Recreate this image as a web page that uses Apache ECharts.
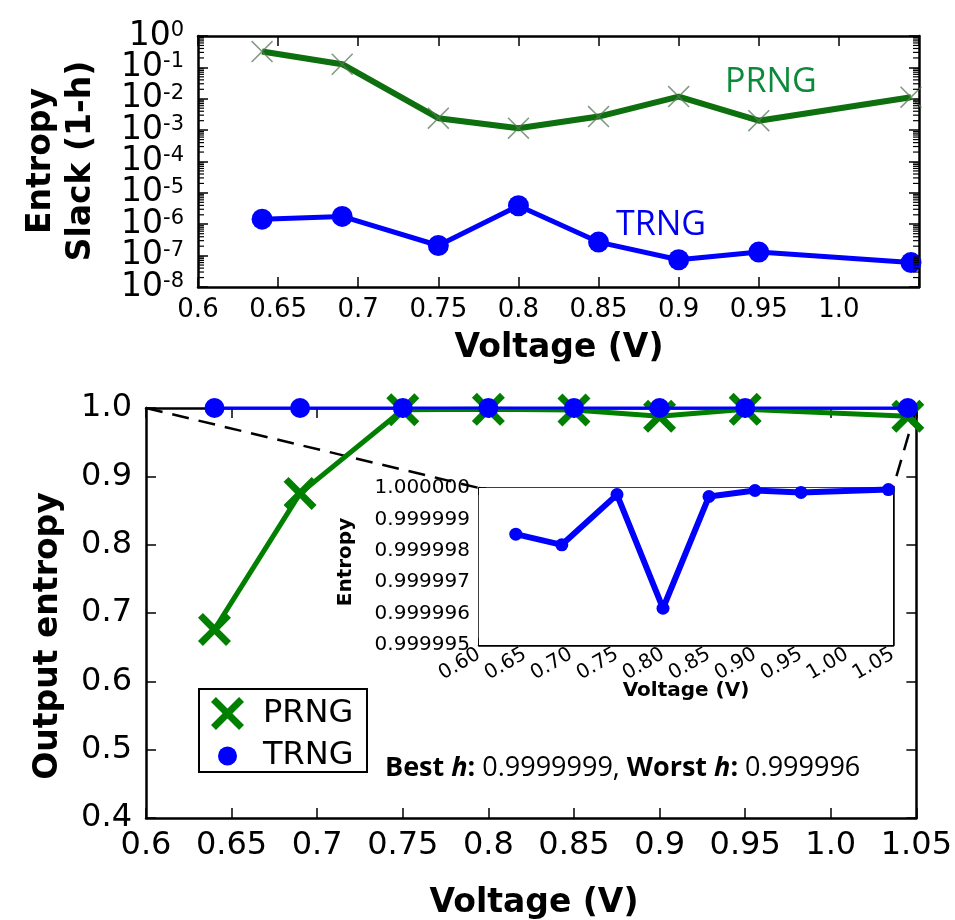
<!DOCTYPE html>
<html>
<head>
<meta charset="utf-8">
<script src="https://cdn.jsdelivr.net/npm/echarts@6/dist/echarts.min.js"></script>
<style>
  html, body { margin: 0; padding: 0; background: #fff; }
  #main { width: 955px; height: 920px; }
</style>
</head>
<body>
<div id="main"></div>
<script>
// data
var voltage = [0.64, 0.69, 0.75, 0.80, 0.85, 0.90, 0.95, 1.045];
var prngSlack = [0.32, 0.126, 0.0024, 0.00115, 0.0027, 0.0117, 0.002, 0.0112];
var trngSlack = [1.45e-6, 1.78e-6, 2.1e-7, 3.9e-6, 2.7e-7, 7.4e-8, 1.3e-7, 6e-8];
var prngEntropy = [0.676, 0.875, 0.9975, 0.998, 0.997, 0.988, 0.998, 0.988];
var trngEntropy = [0.99999853, 0.99999819, 0.99999979, 0.99999617, 0.99999973, 0.99999992, 0.99999986, 0.99999995];

var FONT = 'DejaVu Sans';
var GREEN = '#007f00';
var BLUE = '#0000ff';

var xThin = 'path://M0,1 L1,0 L10,9 L19,0 L20,1 L11,10 L20,19 L19,20 L10,11 L1,20 L0,19 L9,10 Z';
var xThick = 'path://M0,3 L3,0 L10,7 L17,0 L20,3 L13,10 L20,17 L17,20 L10,13 L3,20 L0,17 L7,10 Z';

function pairs(xs, ys) {
    return xs.map(function (x, i) { return [x, ys[i]]; });
}

function fmtVolt(v) {
    if (Math.abs(v - 1) < 1e-9) return '1.0';
    return String(Math.round(v * 100) / 100);
}

/**
 * one axis with matplotlib-like inside ticks
 */
function axis(type, grid, pos, min, max, extra) {
    var a = {
        type: type,
        gridIndex: grid,
        position: pos,
        min: min,
        max: max,
        axisLine: { show: true, onZero: false, lineStyle: { color: '#000', width: 2.5 } },
        axisTick: { show: true, inside: true, length: 10, lineStyle: { color: '#000', width: 1.5 } },
        axisLabel: { show: false },
        splitLine: { show: false }
    };
    for (var k in extra) a[k] = extra[k];
    return a;
}

// log labels 10^n, split over two axes (even / odd powers) so none get dropped
function powLabel(parity) {
    return {
        show: true, margin: 14, interval: 0, showMinLabel: true, showMaxLabel: true,
        formatter: function (v) {
            var e = Math.round(Math.log(v) / Math.LN10);
            if (Math.abs(e % 2) !== parity) return '';
            return '{b|10}{s|' + (e === 0 ? '0' : '-' + (-e)) + '}';
        },
        rich: {
            b: { fontSize: 33, fontFamily: FONT, color: '#000', lineHeight: 32 },
            s: { fontSize: 21, fontFamily: FONT, color: '#000', lineHeight: 21, verticalAlign: 'top' }
        }
    };
}

var chart = echarts.init(document.getElementById('main'));

var xAxes = [
    axis('value', 0, 'bottom', 0.6, 1.05, {
        interval: 0.05,
        axisLabel: {
            show: true, margin: 10, fontSize: 26, fontFamily: FONT, color: '#000',
            formatter: function (v) { return v > 1.04 ? '' : fmtVolt(v); }
        }
    }),
    axis('value', 0, 'top', 0.6, 1.05, { interval: 0.05 }),
    axis('value', 1, 'bottom', 0.6, 1.05, {
        interval: 0.05,
        axisLabel: {
            show: true, margin: 12, fontSize: 32, fontFamily: FONT, color: '#000',
            formatter: fmtVolt, hideOverlap: false
        }
    }),
    axis('value', 1, 'top', 0.6, 1.05, { interval: 0.05 }),
    axis('value', 2, 'bottom', 0.6, 1.05, {
        interval: 0.05,
        axisTick: { show: true, inside: true, length: 7, lineStyle: { color: '#000', width: 1.5 } },
        axisLabel: {
            show: true, margin: 8, rotate: 30, fontSize: 20, fontFamily: FONT, color: '#000',
            formatter: function (v) { return v.toFixed(2); }
        }
    }),
    axis('value', 2, 'top', 0.6, 1.05, {
        interval: 0.05,
        axisTick: { show: true, inside: true, length: 7, lineStyle: { color: '#000', width: 1.5 } }
    })
];

var yAxes = [
    axis('log', 0, 'left', 1e-8, 1, { logBase: 10, splitNumber: 8, axisLabel: powLabel(0) }),
    axis('log', 0, 'right', 1e-8, 1, { logBase: 10, splitNumber: 8 }),
    axis('value', 1, 'left', 0.4, 1.0, {
        interval: 0.1,
        axisLabel: {
            show: true, margin: 14, fontSize: 32, fontFamily: FONT, color: '#000',
            formatter: function (v) { return v.toFixed(1); }
        }
    }),
    axis('value', 1, 'right', 0.4, 1.0, { interval: 0.1 }),
    axis('value', 2, 'left', 0.999995, 1.0, {
        interval: 0.000001,
        axisTick: { show: true, inside: true, length: 7, lineStyle: { color: '#000', width: 1.5 } },
        axisLabel: {
            show: true, margin: 9, fontSize: 20, fontFamily: FONT, color: '#000',
            formatter: function (v) { return v.toFixed(6); }
        }
    }),
    axis('value', 2, 'right', 0.999995, 1.0, {
        interval: 0.000001,
        axisTick: { show: true, inside: true, length: 7, lineStyle: { color: '#000', width: 1.5 } }
    }),
    axis('log', 0, 'left', 1e-8, 1, {
        logBase: 10, splitNumber: 8, offset: 0,
        axisLine: { show: false, onZero: false },
        axisTick: { show: false },
        axisLabel: powLabel(1)
    })
];

var option = {
    animation: false,
    backgroundColor: '#fff',
    grid: [
        { left: 198, top: 36, width: 721, height: 251 },
        { left: 146, top: 408, width: 777, height: 410 },
        { left: 479, top: 488, width: 414, height: 157, show: true, backgroundColor: '#fff', borderWidth: 0, z: 3 }
    ],
    xAxis: xAxes,
    yAxis: yAxes,
    legend: [
        {
            data: [{ name: 'PRNG', icon: xThick }],
            left: 211, top: 697, orient: 'vertical', padding: 0,
            itemWidth: 33, itemHeight: 33, selectedMode: false,
            textStyle: { fontSize: 32, fontFamily: FONT, color: '#000', padding: [0, 0, 0, 14] }
        },
        {
            data: [{ name: 'TRNG', icon: 'circle' }],
            left: 218, top: 740, orient: 'vertical', padding: 0,
            itemWidth: 19, itemHeight: 19, selectedMode: false,
            textStyle: { fontSize: 32, fontFamily: FONT, color: '#000', padding: [0, 0, 0, 21] }
        }
    ],
    series: [
        {
            name: 'PRNG slack', type: 'line', xAxisIndex: 0, yAxisIndex: 0,
            data: pairs(voltage, prngSlack),
            symbol: xThin, symbolSize: 22,
            lineStyle: { color: '#0d6f0d', width: 6 },
            itemStyle: { color: 'rgba(90,120,90,0.75)' },
            z: 3
        },
        {
            name: 'TRNG slack', type: 'line', xAxisIndex: 0, yAxisIndex: 0,
            data: pairs(voltage, trngSlack),
            symbol: 'circle', symbolSize: 21,
            lineStyle: { color: BLUE, width: 5 },
            itemStyle: { color: BLUE },
            z: 3
        },
        {
            name: 'PRNG', type: 'line', xAxisIndex: 2, yAxisIndex: 2,
            data: pairs(voltage, prngEntropy),
            symbol: xThick, symbolSize: 33,
            lineStyle: { color: GREEN, width: 5 },
            itemStyle: { color: GREEN },
            clip: false,
            z: 3
        },
        {
            name: 'TRNG', type: 'line', xAxisIndex: 2, yAxisIndex: 2,
            data: pairs(voltage, trngEntropy),
            symbol: 'circle', symbolSize: 20,
            lineStyle: { color: BLUE, width: 3 },
            itemStyle: { color: BLUE },
            clip: false,
            z: 4
        },
        {
            name: 'TRNG inset', type: 'line', xAxisIndex: 4, yAxisIndex: 4,
            data: pairs(voltage, trngEntropy),
            symbol: 'circle', symbolSize: 13,
            lineStyle: { color: BLUE, width: 6 },
            itemStyle: { color: BLUE },
            clip: false,
            z: 5
        }
    ]
};

chart.setOption(option);

// annotations: zoom lines, log minor ticks, labels
function px(axisIdx, x, y) {
    return chart.convertToPixel({ xAxisIndex: axisIdx, yAxisIndex: axisIdx }, [x, y]);
}

var graphics = [];

var bl = px(2, 0.6, 1.0), br = px(2, 1.05, 1.0);
var il = px(4, 0.6, 1.0), ir = px(4, 1.05, 1.0);
[[bl, il], [br, ir]].forEach(function (p) {
    graphics.push({
        type: 'line', z: 1,
        shape: { x1: p[0][0], y1: p[0][1], x2: p[1][0], y2: p[1][1] },
        style: { stroke: '#000', lineWidth: 2.5, lineDash: [17, 10] }
    });
});

var tl = px(0, 0.6, 1), tr = px(0, 1.05, 1);
for (var n = -8; n < 0; n++) {
    for (var k = 2; k <= 9; k++) {
        var yy = px(0, 0.6, k * Math.pow(10, n))[1];
        graphics.push({ type: 'line', z: 5, shape: { x1: tl[0], y1: yy, x2: tl[0] + 6, y2: yy }, style: { stroke: '#000', lineWidth: 1.2 } });
        graphics.push({ type: 'line', z: 5, shape: { x1: tr[0] - 6, y1: yy, x2: tr[0], y2: yy }, style: { stroke: '#000', lineWidth: 1.2 } });
    }
}

function title(text, x, y, size, rot, extra) {
    var st = {
        text: text, x: 0, y: 0, fill: '#000',
        font: 'bold ' + size + 'px "' + FONT + '"',
        align: 'center', verticalAlign: 'middle'
    };
    for (var k in extra) st[k] = extra[k];
    return { type: 'text', x: x, y: y, rotation: rot, z: 10, style: st };
}

graphics.push(title('Entropy\nSlack (1-h)', 61, 161, 33, Math.PI / 2, { lineHeight: 40 }));
graphics.push(title('Voltage (V)', 559, 348, 33, 0));
graphics.push(title('Output entropy', 48, 636, 33, Math.PI / 2));
graphics.push(title('Voltage (V)', 534, 903, 33, 0));
graphics.push(title('Entropy', 346, 562, 20, Math.PI / 2));
graphics.push(title('Voltage (V)', 686, 691, 20, 0));

graphics.push({
    type: 'text', x: 725, y: 82, z: 10,
    style: { text: 'PRNG', fill: '#0b8a3b', font: '34px "Open Sans"', align: 'left', verticalAlign: 'middle' }
});
graphics.push({
    type: 'text', x: 616, y: 225, z: 10,
    style: { text: 'TRNG', fill: '#0000ee', font: '34px "Open Sans"', align: 'left', verticalAlign: 'middle' }
});

graphics.push({
    type: 'rect', z: 0,
    shape: { x: 199, y: 689, width: 168, height: 83 },
    style: { fill: '#fff', stroke: '#000', lineWidth: 2 }
});

graphics.push({
    type: 'text', x: 385, y: 768, z: 10,
    style: {
        text: '{b|Best }{i|h}{b|:} 0.9999999, {b|Worst }{i|h}{b|:} 0.999996',
        font: '27px "Open Sans"', fill: '#000', verticalAlign: 'middle',
        rich: {
            b: { fontWeight: 'bold', fontSize: 27, fontFamily: 'Open Sans' },
            i: { fontWeight: 'bold', fontStyle: 'italic', fontSize: 27, fontFamily: 'Open Sans' }
        }
    }
});

chart.setOption({ graphic: graphics });
</script>
</body>
</html>
